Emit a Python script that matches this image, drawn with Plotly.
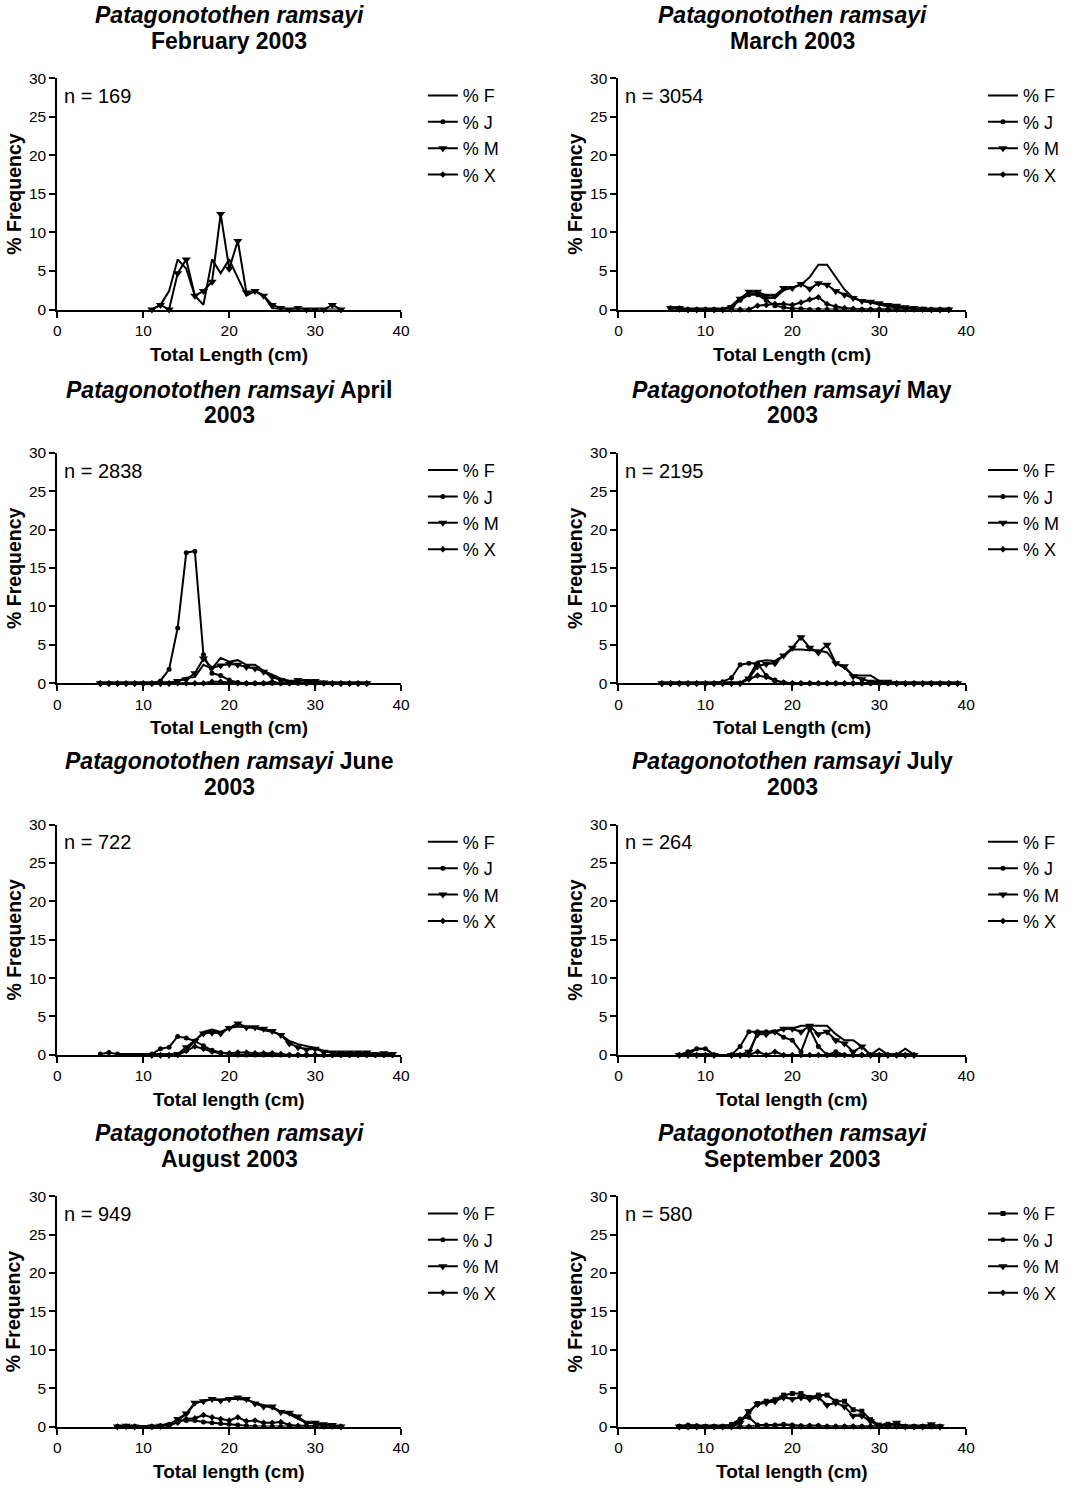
import plotly.graph_objects as go

# Length classes (cm) and percentage frequency for each maturity class
# F = females, J = juveniles, M = males, X = unsexed

feb_len = [11, 12, 13, 14, 15, 16, 17, 18, 19, 20, 21, 22, 23, 24, 25, 26, 27, 28, 29, 30, 31, 32, 33]
feb_F = [0, 0.6, 2.4, 6.5, 5.3, 1.8, 0.6, 6.5, 4.7, 6.5, 4.1, 1.8, 2.4, 1.8, 0.2, 0, 0, 0, 0, 0, 0, 0, 0]
feb_J = [None] * 23
feb_M = [0, 0.6, 0, 4.7, 6.5, 1.8, 2.4, 3.6, 12.4, 5.3, 8.9, 2.2, 2.4, 1.8, 0.6, 0.2, 0, 0.2, 0, 0, 0, 0.6, 0]
feb_X = [None] * 23

mar_len = [6, 7, 8, 9, 10, 11, 12, 13, 14, 15, 16, 17, 18, 19, 20, 21, 22, 23, 24, 25, 26, 27, 28, 29, 30, 31, 32, 33, 34, 35, 36, 37, 38]
mar_F = [0, 0, 0, 0, 0, 0, 0, 0.5, 1.5, 2.0, 2.0, 1.5, 1.5, 2.5, 2.8, 3.2, 4.2, 5.8, 5.8, 4.2, 2.6, 1.5, 1.1, 0.9, 0.6, 0.4, 0.3, 0.2, 0.1, 0, 0, 0, 0]
mar_J = [0.2, 0.2, 0, 0, 0, 0, 0, 0.3, 1.2, 1.9, 1.9, 1.2, 0.5, 0.3, 0.1, 0.1, 0, 0, 0, 0, 0, 0, 0, 0, 0, 0, 0, 0, 0, 0, 0, 0, 0]
mar_M = [0.2, 0.2, 0, 0, 0, 0, 0, 0.3, 1.4, 2.3, 2.3, 1.8, 1.8, 2.8, 2.8, 3.3, 2.7, 3.4, 3.2, 2.4, 1.9, 1.5, 1.1, 1.0, 0.8, 0.6, 0.5, 0.3, 0.2, 0.1, 0, 0, 0]
mar_X = [0.1, 0, 0, 0, 0, 0, 0, 0, 0, 0, 0.5, 0.6, 0.7, 0.7, 0.6, 0.9, 1.3, 1.6, 0.7, 0.4, 0.2, 0.1, 0, 0, 0, 0, 0, 0, 0, 0, 0, 0, 0]

apr_len = [5, 6, 7, 8, 9, 10, 11, 12, 13, 14, 15, 16, 17, 18, 19, 20, 21, 22, 23, 24, 25, 26, 27, 28, 29, 30, 31, 32, 33, 34, 35, 36]
apr_F = [0, 0, 0, 0, 0, 0, 0, 0, 0.1, 0.3, 0.7, 0.8, 2.4, 1.9, 3.3, 2.8, 3.0, 2.4, 2.4, 1.6, 1.1, 0.6, 0.3, 0.1, 0, 0, 0, 0, 0, 0, 0, 0]
apr_J = [0, 0, 0, 0, 0, 0, 0, 0.3, 1.8, 7.2, 17.0, 17.2, 3.7, 1.3, 1.0, 0.4, 0.1, 0, 0, 0, 0, 0, 0, 0, 0, 0, 0, 0, 0, 0, 0, 0]
apr_M = [0, 0, 0, 0, 0, 0, 0, 0, 0, 0.3, 0.5, 1.3, 3.2, 2.0, 2.3, 2.5, 2.4, 2.1, 1.9, 1.5, 0.8, 0.4, 0.2, 0.4, 0.3, 0.3, 0.1, 0, 0, 0, 0, 0]
apr_X = [0, 0, 0, 0, 0, 0, 0, 0, 0, 0, 0, 0, 0, 0.2, 0.2, 0.1, 0, 0, 0, 0, 0.2, 0, 0, 0.1, 0, 0, 0, 0, 0, 0, 0, 0]

may_len = [5, 6, 7, 8, 9, 10, 11, 12, 13, 14, 15, 16, 17, 18, 19, 20, 21, 22, 23, 24, 25, 26, 27, 28, 29, 30, 31, 32, 33, 34, 35, 36, 37, 38, 39]
may_F = [0, 0, 0, 0, 0, 0, 0, 0, 0, 0, 0.8, 2.8, 3.0, 2.9, 3.6, 4.4, 4.4, 4.3, 4.3, 4.0, 2.6, 2.0, 1.0, 1.0, 1.0, 0.3, 0.1, 0, 0, 0, 0, 0, 0, 0, 0]
may_J = [0, 0, 0, 0, 0, 0, 0, 0.2, 0.7, 2.4, 2.6, 2.6, 1.0, 0.4, 0.1, 0, 0, 0, 0, 0, 0, 0, 0, 0, 0, 0, 0, 0, 0, 0, 0, 0, 0, 0, 0]
may_M = [0, 0, 0, 0, 0, 0, 0, 0, 0, 0, 0.6, 2.2, 2.5, 2.6, 3.6, 4.6, 6.0, 4.6, 4.0, 5.0, 2.6, 2.2, 0.9, 0.5, 0.2, 0.2, 0.2, 0, 0, 0, 0, 0, 0, 0, 0]
may_X = [0, 0, 0, 0, 0, 0, 0, 0, 0, 0, 0.5, 1.0, 0.8, 0.3, 0.1, 0, 0, 0, 0, 0, 0, 0, 0, 0, 0, 0, 0, 0, 0, 0, 0, 0, 0, 0, 0]

jun_len = [5, 6, 7, 11, 12, 13, 14, 15, 16, 17, 18, 19, 20, 21, 22, 23, 24, 25, 26, 27, 28, 29, 30, 31, 32, 33, 34, 35, 36, 37, 38, 39]
jun_F = [None, None, None, 0, 0, 0, 0, 0.6, 1.8, 3.0, 3.3, 3.0, 3.5, 3.7, 3.6, 3.5, 3.2, 3.0, 2.6, 1.8, 1.4, 1.2, 0.9, 0.5, 0.3, 0.2, 0.1, 0.1, 0.1, 0.1, 0.1, 0.1]
jun_J = [0.1, 0.3, 0.1, 0.1, 0.8, 1.0, 2.4, 2.2, 1.8, 1.2, 0.6, 0.3, 0.1, 0, 0, 0, 0, 0, 0, 0, 0, 0, 0, 0, 0, 0, 0, 0, 0, 0, 0, 0]
jun_M = [None, None, None, 0, 0, 0, 0.1, 1.0, 1.8, 2.8, 2.9, 2.8, 3.5, 4.1, 3.6, 3.6, 3.4, 3.1, 2.6, 1.5, 1.0, 0.7, 0.8, 0.4, 0.3, 0.3, 0.3, 0.3, 0.3, 0.1, 0.2, 0.1]
jun_X = [None, None, None, 0, 0, 0, 0, 0.5, 1.1, 0.8, 0.4, 0.2, 0.2, 0.3, 0.3, 0.2, 0.2, 0.2, 0.1, 0, 0, 0, 0, 0, 0, 0, 0, 0, 0, 0, 0, 0]

jul_len = [7, 8, 9, 10, 11, 13, 14, 15, 16, 17, 18, 19, 20, 21, 22, 23, 24, 25, 26, 27, 28, 29, 30, 31, 32, 33, 34]
jul_F = [0, 0, 0.8, 0.8, 0, 0, 0, 0, 3.0, 3.0, 3.0, 3.4, 3.4, 3.8, 3.8, 3.8, 3.8, 2.7, 1.9, 1.9, 1.1, 0, 0.8, 0, 0, 0.8, 0]
jul_J = [0, 0.4, 0.8, 0.8, 0, 0, 1.1, 3.0, 3.0, 3.0, 3.0, 2.3, 1.9, 0.4, 3.4, 1.1, 0, 0.4, 0, 0, 0, 0, 0, 0, 0, 0, 0]
jul_M = [0, 0, 0, 0, 0, 0, 0, 0.4, 2.7, 2.7, 3.0, 3.4, 3.4, 3.0, 3.8, 2.7, 3.0, 1.9, 1.5, 0.4, 1.1, 0, 0, 0, 0, 0, 0]
jul_X = [0, 0, 0, 0, 0, 0, 0, 0, 0.4, 0, 0.4, 0, 0, 0, 0, 0, 0, 0, 0, 0, 0, 0, 0, 0, 0, 0, 0]

aug_len = [7, 8, 9, 11, 12, 13, 14, 15, 16, 17, 18, 19, 20, 21, 22, 23, 24, 25, 26, 27, 28, 29, 30, 31, 32, 33]
aug_F = [0, 0, 0, 0, 0, 0.2, 0.8, 1.6, 3.0, 3.4, 3.5, 3.5, 3.6, 3.6, 3.5, 3.1, 2.8, 2.4, 2.0, 1.6, 1.0, 0.5, 0.4, 0.2, 0, 0]
aug_J = [0, 0, 0, 0, 0.1, 0.3, 0.8, 0.8, 0.8, 0.6, 0.5, 0.4, 0.3, 0.2, 0.1, 0, 0, 0, 0, 0, 0, 0, 0, 0, 0, 0]
aug_M = [0, 0.1, 0, 0, 0.1, 0.2, 1.0, 1.7, 3.1, 3.3, 3.6, 3.4, 3.6, 3.8, 3.6, 3.0, 2.6, 2.6, 1.9, 1.8, 1.3, 0.5, 0.5, 0.3, 0.2, 0]
aug_X = [0, 0, 0, 0, 0, 0.1, 0.5, 1.0, 1.1, 1.5, 1.2, 1.0, 0.8, 1.2, 0.7, 0.8, 0.5, 0.5, 0.6, 0.2, 0.1, 0.1, 0, 0, 0, 0]

sep_len = [7, 8, 9, 10, 11, 12, 13, 14, 15, 16, 17, 18, 19, 20, 21, 22, 23, 24, 25, 26, 27, 28, 29, 30, 31, 32, 33, 34, 35, 36, 37]
sep_F = [0, 0, 0, 0, 0, 0, 0.2, 0.7, 1.9, 3.0, 3.3, 3.5, 4.1, 4.3, 4.3, 3.8, 4.1, 4.1, 3.3, 3.3, 2.2, 2.0, 0.9, 0.2, 0.3, 0.3, 0, 0, 0, 0, 0]
sep_J = [0, 0.2, 0.1, 0, 0, 0, 0.3, 1.0, 1.2, 0.2, 0.2, 0.2, 0.3, 0.2, 0.1, 0.1, 0.1, 0, 0, 0, 0, 0, 0, 0, 0, 0, 0, 0, 0, 0, 0]
sep_M = [0, 0, 0, 0, 0, 0, 0, 0.5, 2.0, 2.9, 3.1, 3.3, 3.8, 3.6, 3.8, 3.6, 3.8, 2.8, 3.1, 2.6, 1.4, 1.4, 0.7, 0, 0.2, 0.5, 0, 0, 0, 0.3, 0]
sep_X = [0, 0, 0, 0, 0, 0, 0, 0, 0, 0.1, 0.1, 0.1, 0.2, 0.1, 0, 0.1, 0.1, 0, 0, 0, 0, 0, 0, 0, 0, 0, 0, 0, 0, 0, 0]

sample_sizes = [169, 3054, 2838, 2195, 722, 264, 949, 580]
title_lines = [
    ("<b><i>Patagonotothen ramsayi</i></b>", "<b>February 2003</b>"),
    ("<b><i>Patagonotothen ramsayi</i></b>", "<b>March 2003</b>"),
    ("<b><i>Patagonotothen ramsayi</i> April</b>", "<b>2003</b>"),
    ("<b><i>Patagonotothen ramsayi</i> May</b>", "<b>2003</b>"),
    ("<b><i>Patagonotothen ramsayi</i> June</b>", "<b>2003</b>"),
    ("<b><i>Patagonotothen ramsayi</i> July</b>", "<b>2003</b>"),
    ("<b><i>Patagonotothen ramsayi</i></b>", "<b>August 2003</b>"),
    ("<b><i>Patagonotothen ramsayi</i></b>", "<b>September 2003</b>"),
]
x_titles = ["Total Length (cm)"] * 4 + ["Total length (cm)"] * 4
x_ticks = [0, 10, 20, 30, 40]
y_ticks = [0, 5, 10, 15, 20, 25, 30]

panels = [
    (feb_len, feb_F, feb_J, feb_M, feb_X),
    (mar_len, mar_F, mar_J, mar_M, mar_X),
    (apr_len, apr_F, apr_J, apr_M, apr_X),
    (may_len, may_F, may_J, may_M, may_X),
    (jun_len, jun_F, jun_J, jun_M, jun_X),
    (jul_len, jul_F, jul_J, jul_M, jul_X),
    (aug_len, aug_F, aug_J, aug_M, aug_X),
    (sep_len, sep_F, sep_J, sep_M, sep_X),
]

# The page body keeps its default 8px margin, so the figure is sized to
# fill the window exactly with that margin around it.
PAGE_W, PAGE_H, BODY = 1087, 1501, 8
W, H = PAGE_W - 2 * BODY, PAGE_H - 2 * BODY
FONT = "Liberation Sans, Arial, sans-serif"

# page-pixel layout of the panel grid
col_px = [(62, 410), (630, 982)]
row_px = [(78, 312), (457, 690), (833, 1066), (1209, 1442)]
legend_left_px = [432, 999]


def px_x(px):
    return (px - BODY) / W


def px_y(py):
    return 1 - (py - BODY) / H


fig = go.Figure()
layout = dict(
    width=W, height=H, autosize=False,
    margin=dict(l=0, r=0, t=0, b=0),
    paper_bgcolor="white", plot_bgcolor="white",
    font=dict(family=FONT, color="black"),
    annotations=[],
)

for i, (lens, f, j, m, x) in enumerate(panels):
    r, c = divmod(i, 2)
    k = "" if i == 0 else str(i + 1)
    xa, ya = "x" + k, "y" + k
    leg = "legend" + k
    x0, x1 = col_px[c]
    top, bot = row_px[r]

    f_marker = dict(symbol="square", size=5) if i == 7 else None
    series = [
        ("% F", f, "lines+markers" if i == 7 else "lines", f_marker),
        ("% J", j, "lines+markers", dict(symbol="circle", size=5)),
        ("% M", m, "lines+markers", dict(symbol="triangle-down", size=8)),
        ("% X", x, "lines+markers", dict(symbol="diamond", size=5)),
    ]
    for name, vals, mode, mk in series:
        tr = dict(
            x=lens, y=vals, name=name, mode=mode, xaxis=xa, yaxis=ya,
            legend=leg, line=dict(color="black", width=2),
            cliponaxis=False, connectgaps=False,
        )
        if mk is not None:
            tr["marker"] = dict(color="black", **mk)
        fig.add_trace(go.Scatter(**tr))

    axis_common = dict(
        showline=True, linecolor="black", linewidth=2,
        ticks="outside", ticklen=6, tickwidth=2, tickcolor="black",
        showgrid=False, zeroline=False,
        tickfont=dict(family=FONT, size=15.5, color="black"),
        fixedrange=True,
    )
    layout["xaxis" + k] = dict(
        axis_common, domain=[px_x(x0), px_x(x1)], range=[0, 40],
        tickvals=x_ticks, anchor=ya,
    )
    layout["yaxis" + k] = dict(
        axis_common, domain=[px_y(bot), px_y(top)], range=[0, 30],
        tickvals=y_ticks, anchor=xa,
    )
    layout[leg] = dict(
        x=px_x(legend_left_px[c]), y=px_y(top - 1),
        xanchor="left", yanchor="top",
        font=dict(family=FONT, size=18, color="black"),
        bgcolor="rgba(0,0,0,0)", borderwidth=0,
        itemwidth=30, tracegroupgap=0,
    )

    span = bot - top
    width = x1 - x0
    cx = px_x((x0 + x1) / 2)
    line1, line2 = title_lines[i]
    layout["annotations"] += [
        dict(text=line1, xref="paper", yref="paper",
             x=cx, y=px_y(top - 64),
             xanchor="center", yanchor="middle", showarrow=False,
             font=dict(family=FONT, size=23, color="black")),
        dict(text=line2, xref="paper", yref="paper",
             x=cx, y=px_y(top - 38),
             xanchor="center", yanchor="middle", showarrow=False,
             font=dict(family=FONT, size=23, color="black")),
        dict(text="n = %d" % sample_sizes[i], xref=xa + " domain", yref=ya + " domain",
             x=5 / width, y=(span - 18) / span,
             xanchor="left", yanchor="middle", showarrow=False,
             font=dict(family=FONT, size=20, color="black")),
        dict(text="<b>" + x_titles[i] + "</b>", xref=xa + " domain", yref=ya + " domain",
             x=0.5, y=-45 / span, xanchor="center", yanchor="middle", showarrow=False,
             font=dict(family=FONT, size=19, color="black")),
        dict(text="<b>% Frequency</b>", xref=xa + " domain", yref=ya + " domain",
             x=-44 / width, y=0.5, textangle=-90,
             xanchor="center", yanchor="middle", showarrow=False,
             font=dict(family=FONT, size=19.5, color="black")),
    ]

fig.update_layout(**layout)
fig.write_html("out.html")
